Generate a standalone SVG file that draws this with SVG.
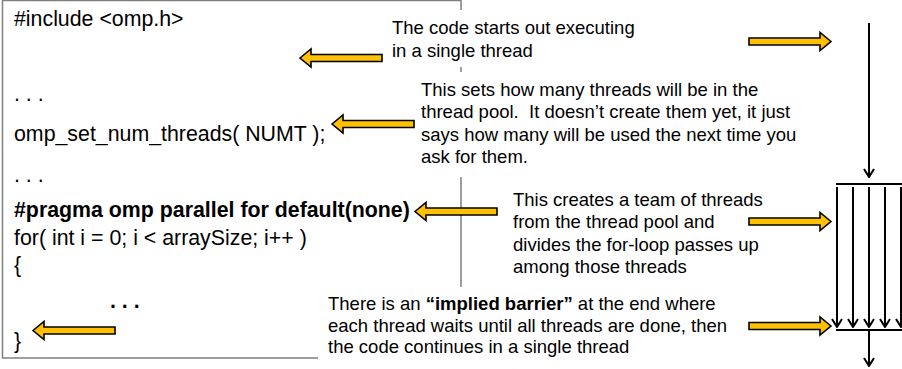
<svg xmlns="http://www.w3.org/2000/svg" width="902" height="369" viewBox="0 0 902 369">
<style>
.code{font-family:"Liberation Sans",Arial,sans-serif;font-size:21.33px;fill:#000}
.b{font-weight:bold}
.note{font-family:"Liberation Sans",Arial,sans-serif;font-size:18.5px;fill:#000;white-space:pre}
.bg{fill:#fff;stroke:none}
.ya{fill:#FFC000;stroke:#000;stroke-width:1.6;stroke-linejoin:miter}
.th{stroke:#000;stroke-width:2;fill:none}
</style>
<defs>
<path id="la" d="M0,0 L11,-9 L11,-3.5 L82,-3.5 L82,3.5 L11,3.5 L11,9 Z"/>
<path id="ra" d="M0,0 L-11,-9 L-11,-3.5 L-82,-3.5 L-82,3.5 L-11,3.5 L-11,9 Z"/>
<marker id="ah" viewBox="0 0 10 12" refX="9" refY="6" markerWidth="10" markerHeight="12" markerUnits="userSpaceOnUse" orient="auto">
<path d="M1,1 L9,6 L1,11" fill="none" stroke="#000" stroke-width="2"/>
</marker>
</defs>

<g id="code-box">
<rect x="2.5" y="0.5" width="458.5" height="357.5" fill="#fff" stroke="#7f7f7f" stroke-width="1.5"/>
<text class="code" x="14" y="26">#include &lt;omp.h&gt;</text>
<text class="code" x="14" y="101">. . .</text>
<text class="code" x="14" y="141">omp_set_num_threads( NUMT );</text>
<text class="code" x="14" y="182">. . .</text>
<text class="code b" x="14" y="217">#pragma omp parallel for default(none)</text>
<text class="code" x="14" y="245">for( int i = 0; i &lt; arraySize; i++ )</text>
<text class="code" x="14" y="272">{</text>
<text class="code b" x="110" y="308">. . .</text>
<text class="code" x="14" y="348">}</text>
</g>

<g id="note-single">
<rect class="bg" x="386" y="10" width="262" height="57"/>
<text class="note" x="392" y="34">The code starts out executing</text>
<text class="note" x="392" y="56.5">in a single thread</text>
</g>

<g id="note-setnum">
<rect class="bg" x="416" y="72" width="346" height="105"/>
<text class="note" x="421" y="96">This sets how many threads will be in the</text>
<text class="note" x="421" y="118.3" xml:space="preserve">thread pool.  It doesn’t create them yet, it just</text>
<text class="note" x="421" y="140.5">says how many will be used the next time you</text>
<text class="note" x="421" y="162.7">ask for them.</text>
</g>

<g id="note-team">
<text class="note" x="513" y="206">This creates a team of threads</text>
<text class="note" x="513" y="228.3">from the thread pool and</text>
<text class="note" x="513" y="250.6">divides the for-loop passes up</text>
<text class="note" x="513" y="272.8">among those threads</text>
</g>

<g id="note-barrier">
<rect class="bg" x="318" y="287" width="420" height="82"/>
<text class="note" x="328" y="310">There is an <tspan class="b">“implied barrier”</tspan> at the end where</text>
<text class="note" x="328" y="331.7">each thread waits until all threads are done, then</text>
<text class="note" x="328" y="353.4">the code continues in a single thread</text>
</g>

<g id="connectors">
<use href="#la" class="ya" x="300" y="58"/>
<use href="#la" class="ya" x="332" y="124"/>
<use href="#la" class="ya" x="415" y="211.5"/>
<use href="#la" class="ya" x="33" y="330.5"/>
<use href="#ra" class="ya" x="831" y="41.5"/>
<use href="#ra" class="ya" x="831" y="221.5"/>
<use href="#ra" class="ya" x="831" y="326"/>
</g>

<g id="threads">
<line class="th" x1="869" y1="23" x2="869" y2="177" marker-end="url(#ah)"/>
<line class="th" x1="836" y1="184" x2="902" y2="184"/>
<line class="th" x1="837" y1="187" x2="837" y2="327" marker-end="url(#ah)"/>
<line class="th" x1="853" y1="187" x2="853" y2="327" marker-end="url(#ah)"/>
<line class="th" x1="869" y1="187" x2="869" y2="327" marker-end="url(#ah)"/>
<line class="th" x1="885" y1="187" x2="885" y2="327" marker-end="url(#ah)"/>
<line class="th" x1="901" y1="187" x2="901" y2="327" marker-end="url(#ah)"/>
<line class="th" x1="836" y1="330" x2="902" y2="330"/>
<line class="th" x1="869" y1="330" x2="869" y2="366" marker-end="url(#ah)"/>
</g>
</svg>
